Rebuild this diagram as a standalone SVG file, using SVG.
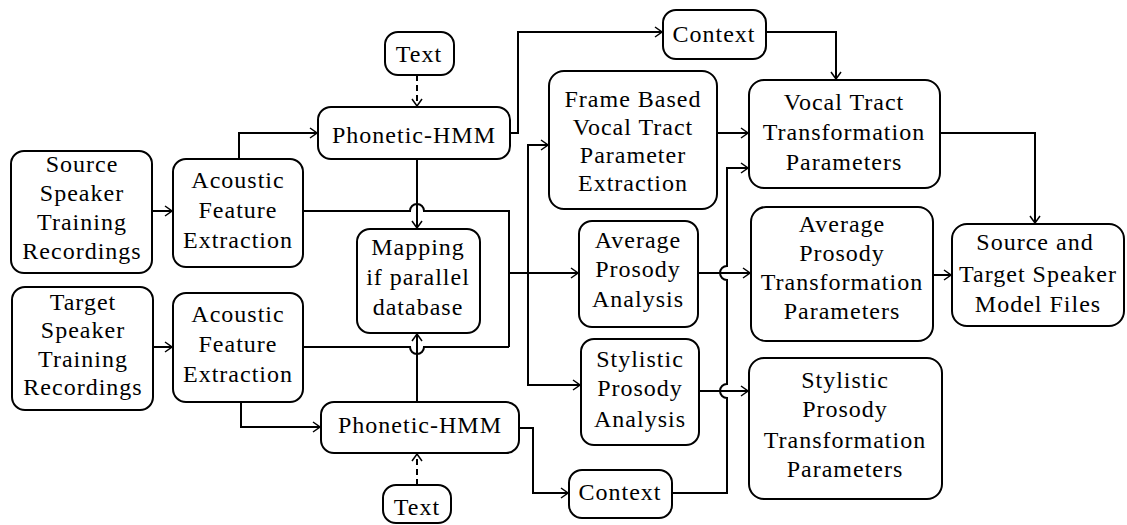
<svg xmlns="http://www.w3.org/2000/svg" width="1127" height="525" viewBox="0 0 1127 525">
<style>
.box{fill:#fff;stroke:#000;stroke-width:2}
.t{font-size:24px;letter-spacing:1px;text-anchor:middle;fill:#000}
.c{fill:none;stroke:#000;stroke-width:2}
.d{stroke-dasharray:6,4}
</style>
<defs>
<marker id="a" viewBox="-9 -6 10 12" markerWidth="10" markerHeight="12" refX="0" refY="0" orient="auto" markerUnits="userSpaceOnUse">
<path d="M-7,-5 L0,0 L-7,5" fill="none" stroke="#000" stroke-width="1.5"/>
</marker>
</defs>
<rect width="1127" height="525" fill="#fff"/>
<g id="connectors">
<path class="c" d="M152,211 H172" marker-end="url(#a)"/>
<path class="c" d="M153,347 H172" marker-end="url(#a)"/>
<path class="c" d="M239,159 V133 H317" marker-end="url(#a)"/>
<path class="c" d="M241,402 V427 H320" marker-end="url(#a)"/>
<path class="c d" d="M417,75 V106" marker-end="url(#a)"/>
<path class="c d" d="M417,485 V454" marker-end="url(#a)"/>
<path class="c" d="M417,159 V228" marker-end="url(#a)"/>
<path class="c" d="M417,402 V334" marker-end="url(#a)"/>
<path class="c" d="M303,211 H410 A7,7 0 0 1 424,211 H509 V347"/>
<path class="c" d="M303,347 H410 A7,7 0 0 0 424,347 H509"/>
<path class="c" d="M509,273 H578" marker-end="url(#a)"/>
<path class="c" d="M528,273 V145 H548" marker-end="url(#a)"/>
<path class="c" d="M528,273 V385 H580" marker-end="url(#a)"/>
<path class="c" d="M510,133 H518 V32 H662" marker-end="url(#a)"/>
<path class="c" d="M519,428 H533 V493 H568" marker-end="url(#a)"/>
<path class="c" d="M766,32 H836 V79" marker-end="url(#a)"/>
<path class="c" d="M717,133 H748" marker-end="url(#a)"/>
<path class="c" d="M672,493 H727 V398 A7,7 0 0 1 727,384 V280 A7,7 0 0 1 727,266 V168 H748" marker-end="url(#a)"/>
<path class="c" d="M698,273 H750" marker-end="url(#a)"/>
<path class="c" d="M699,391 H748" marker-end="url(#a)"/>
<path class="c" d="M940,133 H1035 V223" marker-end="url(#a)"/>
<path class="c" d="M933,275 H951" marker-end="url(#a)"/>
</g>
<g id="nodes" font-family="Liberation Serif, DejaVu Serif Condensed, DejaVu Serif, serif">
<g id="src"><rect class="box" x="11" y="151" width="141" height="122" rx="13"/>
<text class="t" x="82" y="172">Source</text><text class="t" x="82" y="201">Speaker</text><text class="t" x="82" y="230">Training</text><text class="t" x="82" y="259">Recordings</text></g>
<g id="tgt"><rect class="box" x="12" y="287" width="141" height="123" rx="13"/>
<text class="t" x="83" y="310">Target</text><text class="t" x="83" y="338">Speaker</text><text class="t" x="83" y="367">Training</text><text class="t" x="83" y="395">Recordings</text></g>
<g id="afe1"><rect class="box" x="173" y="159" width="130" height="108" rx="13"/>
<text class="t" x="238" y="188">Acoustic</text><text class="t" x="238" y="218">Feature</text><text class="t" x="238" y="248">Extraction</text></g>
<g id="afe2"><rect class="box" x="173" y="293" width="130" height="109" rx="13"/>
<text class="t" x="238" y="322">Acoustic</text><text class="t" x="238" y="352">Feature</text><text class="t" x="238" y="382">Extraction</text></g>
<g id="ph1"><rect class="box" x="318" y="107" width="192" height="52" rx="13"/>
<text class="t" x="414" y="143">Phonetic-HMM</text></g>
<g id="ph2"><rect class="box" x="321" y="402" width="198" height="51" rx="13"/>
<text class="t" x="420" y="433">Phonetic-HMM</text></g>
<g id="text1"><rect class="box" x="385" y="32" width="69" height="43" rx="13"/>
<text class="t" x="419" y="62">Text</text></g>
<g id="text2"><rect class="box" x="383" y="485" width="68" height="38" rx="13"/>
<text class="t" x="417" y="515">Text</text></g>
<g id="map"><rect class="box" x="357" y="229" width="123" height="104" rx="13"/>
<text class="t" x="418" y="255">Mapping</text><text class="t" x="418" y="285">if parallel</text><text class="t" x="418" y="315">database</text></g>
<g id="ctx1"><rect class="box" x="663" y="10" width="103" height="49" rx="13"/>
<text class="t" x="714" y="42">Context</text></g>
<g id="ctx2"><rect class="box" x="569" y="470" width="103" height="48" rx="13"/>
<text class="t" x="620" y="500">Context</text></g>
<g id="frame"><rect class="box" x="549" y="71" width="168" height="138" rx="15"/>
<text class="t" x="633" y="107">Frame Based</text><text class="t" x="633" y="135">Vocal Tract</text><text class="t" x="633" y="163">Parameter</text><text class="t" x="633" y="191">Extraction</text></g>
<g id="avgA"><rect class="box" x="579" y="221" width="119" height="106" rx="13"/>
<text class="t" x="638" y="248">Average</text><text class="t" x="638" y="277">Prosody</text><text class="t" x="638" y="307">Analysis</text></g>
<g id="styA"><rect class="box" x="581" y="339" width="118" height="106" rx="13"/>
<text class="t" x="640" y="367">Stylistic</text><text class="t" x="640" y="396">Prosody</text><text class="t" x="640" y="427">Analysis</text></g>
<g id="vt"><rect class="box" x="749" y="80" width="191" height="108" rx="15"/>
<text class="t" x="844" y="110">Vocal Tract</text><text class="t" x="844" y="140">Transformation</text><text class="t" x="844" y="170">Parameters</text></g>
<g id="avgT"><rect class="box" x="751" y="207" width="182" height="134" rx="15"/>
<text class="t" x="842" y="232">Average</text><text class="t" x="842" y="261">Prosody</text><text class="t" x="842" y="290">Transformation</text><text class="t" x="842" y="319">Parameters</text></g>
<g id="styT"><rect class="box" x="749" y="358" width="193" height="141" rx="15"/>
<text class="t" x="845" y="388">Stylistic</text><text class="t" x="845" y="417">Prosody</text><text class="t" x="845" y="448">Transformation</text><text class="t" x="845" y="477">Parameters</text></g>
<g id="st"><rect class="box" x="952" y="224" width="172" height="102" rx="15"/>
<text class="t" x="1035" y="250">Source and</text><text class="t" x="1038" y="282">Target Speaker</text><text class="t" x="1038" y="312">Model Files</text></g>
</g>
</svg>
